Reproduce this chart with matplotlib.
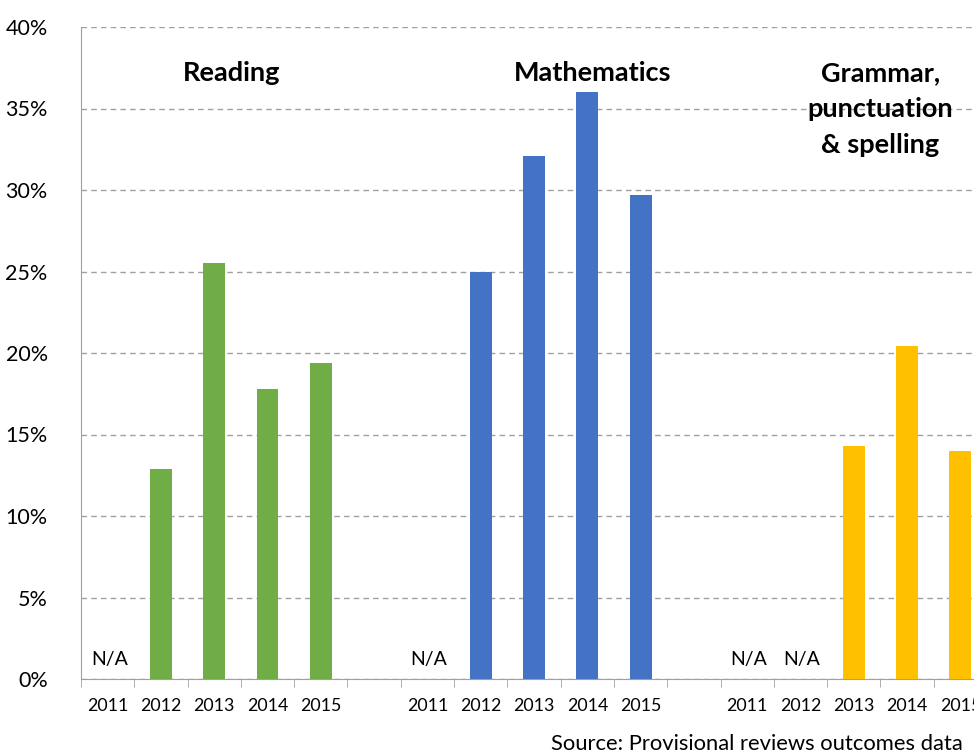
import matplotlib.pyplot as plt
import numpy as np

plt.rcParams['font.family'] = ['Lato', 'DejaVu Sans']

years = ["2011", "2012", "2013", "2014", "2015"]
subjects = ["Reading", "Mathematics", "Grammar,\npunctuation\n& spelling"]
reading = [np.nan, 12.9, 25.5, 17.8, 19.4]
maths = [np.nan, 25.0, 32.1, 36.0, 29.7]
gps = [np.nan, np.nan, 14.3, 20.4, 14.0]
colours = ["#70ad47", "#4472c4", "#ffc000"]
source = "Source: Provisional reviews outcomes data"

fig = plt.figure(figsize=(9.74, 7.54), dpi=100)
# axes run off the right edge like the original
ax = fig.add_axes([81 / 974, 1 - 679 / 754, 906 / 974, 652 / 754])

labels = []
for g, (vals, col) in enumerate(zip([reading, maths, gps], colours)):
    x = np.arange(5) + g * 6
    ax.bar(x, np.nan_to_num(vals), width=0.41, color=col, zorder=3)
    for xi, v in zip(x, vals):
        if np.isnan(v):
            ax.text(xi + 0.03, 1.2, "N/A", ha="center", va="center", fontsize=14)
    labels += years
    if g < 2:
        labels.append("")

ax.set_xlim(-0.5, 16.5)
ax.set_ylim(0, 40)
ax.set_xticks(np.arange(17))
ax.set_xticklabels(labels, fontsize=12.8)
ax.set_xticks(np.arange(-0.5, 17, 1), minor=True)
ax.tick_params(axis="x", which="major", length=0, pad=14)
ax.tick_params(axis="x", which="minor", length=6, color="#a0a0a0", direction="out")
ax.set_yticks(np.arange(0, 41, 5))
ax.set_yticklabels([f"{v}%" for v in range(0, 41, 5)], fontsize=15.5)
ax.tick_params(axis="y", length=0, pad=24)
ax.grid(axis="y", linestyle=(0, (4, 3)), color="#a0a0a0", linewidth=1, zorder=0)
for s in ["top", "right"]:
    ax.spines[s].set_visible(False)
for s in ["left", "bottom"]:
    ax.spines[s].set_color("#a0a0a0")

title_x = [2.33, 9.1, 14.5]
for tx, name in zip(title_x, subjects):
    ax.text(tx, 37.9, name, ha="center", va="top", fontsize=19.5, fontweight="bold",
            linespacing=1.6)

fig.text(551 / 974, 1 - 744 / 754, source, ha="left", va="center", fontsize=15.8)

fig.savefig("out.png", dpi=100)
